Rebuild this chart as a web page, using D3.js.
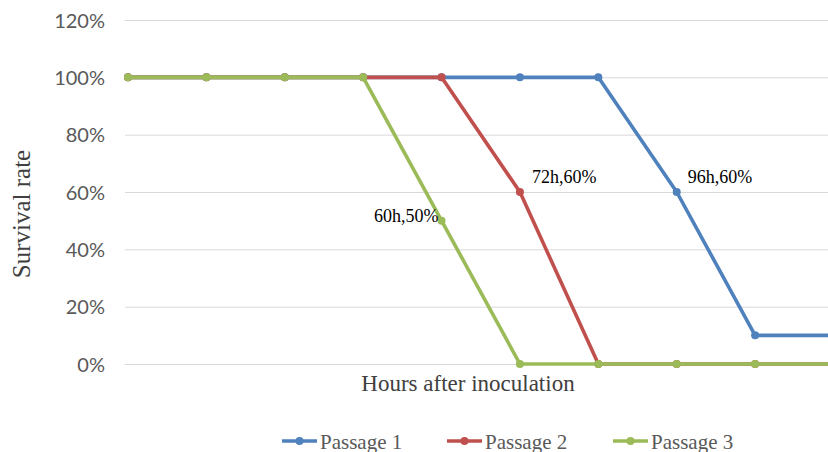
<!DOCTYPE html>
<html><head><meta charset="utf-8">
<script src="https://cdn.jsdelivr.net/npm/d3@7"></script>
<style>body{margin:0;background:#fff}svg{display:block}</style>
</head><body>
<svg id="c" width="828" height="452"></svg>
<script>
const categories = ["12h","24h","36h","48h","60h","72h","84h","96h","108h","120h"];
const passage1 = [100,100,100,100,100,100,100,60,10,10];
const passage2 = [100,100,100,100,100,60,0,0,0,0];
const passage3 = [100,100,100,100,50,0,0,0,0,0];
const yTicks = [0,20,40,60,80,100,120];
const seriesNames = ["Passage 1","Passage 2","Passage 3"];
const colors = ["#4F81BD","#C0504D","#9BBB59"];
const annotations = [
  {series:2, index:4, text:"60h,50%", anchor:"end", dx:-3, dy:1},
  {series:1, index:5, text:"72h,60%", anchor:"start", dx:12, dy:-9},
  {series:0, index:7, text:"96h,60%", anchor:"start", dx:11, dy:-9}
];

const svg = d3.select("#c");
const x = d3.scalePoint().domain(categories).range([128, 833.5]);
const y = d3.scaleLinear().domain([0,120]).range([364, 20]);

const yAxis = d3.axisLeft(y).tickValues(yTicks).tickFormat(d => d + "%").tickSize(-(828-125)).tickPadding(20);
const gy = svg.append("g").attr("transform","translate(125,0)").call(yAxis);
gy.select(".domain").remove();
gy.selectAll(".tick line").attr("stroke","#d9d9d9").attr("stroke-width",1);
gy.selectAll(".tick text").attr("fill","#595959").style("font-family","Lato, 'Open Sans', sans-serif").style("font-size","20px").attr("dy","0.36em");

const data = [passage1, passage2, passage3];
const line = d3.line().x((d,i)=>x(categories[i])).y(d=>y(d));
data.forEach((s,k)=>{
  const g = svg.append("g");
  g.append("path").datum(s).attr("d",line).attr("fill","none").attr("stroke",colors[k]).attr("stroke-width",3.6).attr("stroke-linejoin","round");
  g.selectAll("circle").data(s).join("circle").attr("cx",(d,i)=>x(categories[i])).attr("cy",d=>y(d)).attr("r",4).attr("fill",colors[k]);
});

annotations.forEach(a=>{
  const v = data[a.series][a.index];
  svg.append("text").attr("x", x(categories[a.index]) + a.dx).attr("y", y(v) + a.dy)
    .attr("text-anchor", a.anchor).style("font-family","'Liberation Serif', 'Times New Roman', serif").style("font-size","18px").attr("fill","#000")
    .text(a.text);
});

svg.append("text").attr("x",468).attr("y",391).attr("text-anchor","middle")
  .style("font-family","'Liberation Serif', 'Times New Roman', serif").style("font-size","23px").attr("fill","#404040")
  .text("Hours after inoculation");
svg.append("text").attr("transform","translate(30,214) rotate(-90)").attr("text-anchor","middle")
  .style("font-family","'Liberation Serif', 'Times New Roman', serif").style("font-size","25px").attr("fill","#404040")
  .text("Survival rate");

const legendX = [282, 447, 613];
seriesNames.forEach((n,k)=>{
  const g = svg.append("g").attr("transform",`translate(${legendX[k]},441)`);
  g.append("line").attr("x1",0).attr("x2",35).attr("y1",0).attr("y2",0).attr("stroke",colors[k]).attr("stroke-width",3.6);
  g.append("circle").attr("cx",17.5).attr("cy",0).attr("r",4).attr("fill",colors[k]);
  g.append("text").attr("x",38).attr("y",8).style("font-family","'Liberation Serif', 'Times New Roman', serif").style("font-size","21px").attr("fill","#595959").text(n);
});
</script>
</body></html>
